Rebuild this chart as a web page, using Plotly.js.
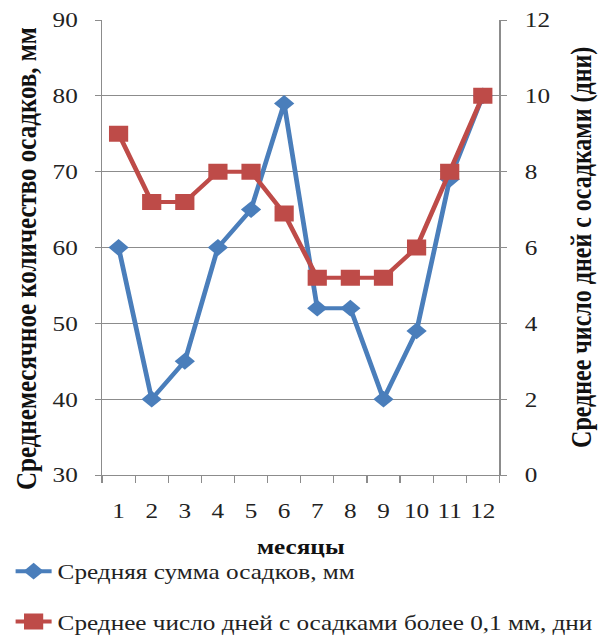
<!DOCTYPE html>
<html>
<head>
<meta charset="utf-8">
<script src="https://cdn.plot.ly/plotly-3.0.1.min.js"></script>
<style>
html,body{margin:0;padding:0;background:#fff;overflow:hidden;width:611px;height:640px;}
/* the reference picture is horizontally stretched; reproduce that by scaling the whole chart */
#chart{width:509px;height:640px;transform:scaleX(1.2004);transform-origin:0 0;}
</style>
</head>
<body>
<div id="chart"></div>
<script>
const months = ["1","2","3","4","5","6","7","8","9","10","11","12"];
const precipMm = [60, 40, 45, 60, 65, 79, 52, 52, 40, 49, 69, 80];
const rainyDays = [9, 7.2, 7.2, 8, 8, 6.9, 5.2, 5.2, 5.2, 6, 8, 10];
const seriesNames = ["Средняя сумма осадков, мм", "Среднее число дней с осадками более 0,1 мм, дни"];
const leftTitle = "Среднемесячное количество осадков, мм";
const rightTitle = "Среднее число дней с осадками (дни)";
const xTitle = "месяцы";
const leftTicks = [30, 40, 50, 60, 70, 80, 90];
const rightTicks = [0, 2, 4, 6, 8, 10, 12];

const FONT = "'Liberation Serif', 'Times New Roman', serif";
const BLUE = "#4A7EBB";
const RED = "#BE4B48";
const GRID = "#8c8c8c";

const traces = [
  {
    x: months, y: precipMm, name: seriesNames[0], type: "scatter", mode: "lines+markers",
    line: {color: BLUE, width: 4},
    marker: {symbol: "diamond", size: 13, color: BLUE},
    legendgroup: "a"
  },
  {
    x: months, y: rainyDays, name: seriesNames[1], type: "scatter", mode: "lines+markers",
    yaxis: "y2",
    line: {color: RED, width: 4},
    marker: {symbol: "square", size: 16, color: RED},
    legendgroup: "b"
  }
];

const W = 509, H = 640, L = 85, R = 93, T = 20, B = 165;
const plotW = W - L - R, plotH = H - T - B;

const layout = {
  width: W, height: H,
  margin: {l: L, r: R, t: T, b: B, autoexpand: false},
  paper_bgcolor: "#ffffff", plot_bgcolor: "#ffffff",
  font: {family: FONT, size: 21, color: "#222"},
  showlegend: true,
  xaxis: {
    type: "category",
    range: [-0.5, months.length - 0.5],
    tickson: "boundaries",
    tickangle: 0,
    ticks: "outside", ticklen: 7, tickcolor: GRID,
    ticklabelstandoff: 17,
    showgrid: false, showline: true, linecolor: GRID, linewidth: 1,
    tickfont: {family: FONT, size: 21, color: "#222"},
    zeroline: false
  },
  yaxis: {
    range: [30, 90], tickvals: leftTicks,
    ticks: "outside", ticklen: 5, tickcolor: GRID,
    ticklabelstandoff: 10,
    showgrid: true, gridcolor: GRID, gridwidth: 1,
    showline: true, linecolor: GRID,
    zeroline: false,
    tickfont: {family: FONT, size: 21, color: "#222"}
  },
  yaxis2: {
    overlaying: "y", side: "right",
    range: [0, 12], tickvals: rightTicks,
    ticks: "outside", ticklen: 5, tickcolor: GRID,
    ticklabelstandoff: 11,
    showgrid: false, showline: true, linecolor: GRID,
    zeroline: false,
    tickfont: {family: FONT, size: 21, color: "#222"}
  },
  legend: {
    orientation: "v",
    x: (8 - L) / plotW, xanchor: "left",
    y: (plotH + T - 551) / plotH, yanchor: "top",
    font: {family: FONT, size: 21, color: "#222"},
    tracegroupgap: 20,
    bgcolor: "rgba(0,0,0,0)"
  },
  annotations: [
    {text: "<b>" + leftTitle + "</b>", xref: "paper", yref: "paper",
     x: (21 - L) / plotW, y: (plotH + T - 259) / plotH, textangle: -90,
     xanchor: "center", yanchor: "middle", showarrow: false,
     font: {family: FONT, size: 25, color: "#111"}},
    {text: "<b>" + rightTitle + "</b>", xref: "paper", yref: "paper",
     x: (484 - L) / plotW, y: (plotH + T - 248) / plotH, textangle: -90,
     xanchor: "center", yanchor: "middle", showarrow: false,
     font: {family: FONT, size: 24, color: "#111"}},
    {text: "<b>" + xTitle + "</b>", xref: "paper", yref: "paper",
     x: 0.5, y: (plotH + T - 547) / plotH,
     xanchor: "center", yanchor: "middle", showarrow: false,
     font: {family: FONT, size: 21, color: "#111"}}
  ]
};

Plotly.newPlot("chart", traces, layout, {displayModeBar: false, staticPlot: true});
</script>
</body>
</html>
